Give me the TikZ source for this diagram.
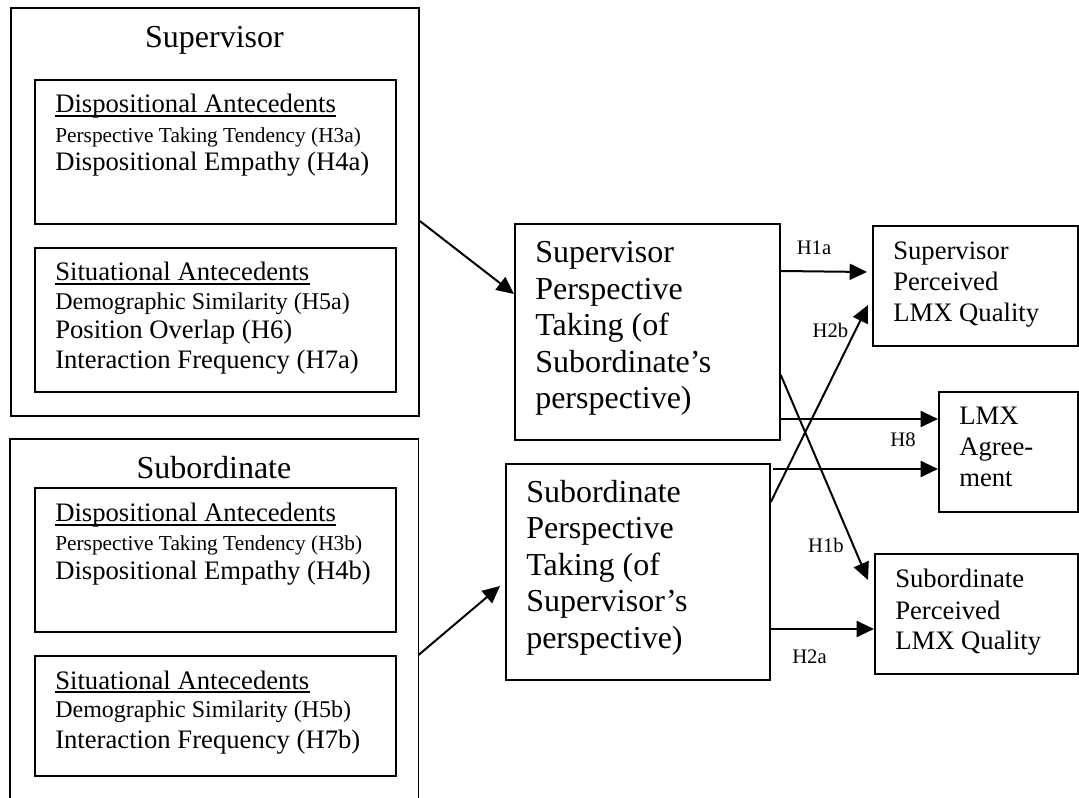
\documentclass[tikz,border=0pt]{standalone}
\usepackage{fontspec}
\setmainfont{Liberation Serif}
\usetikzlibrary{arrows.meta,calc}
\begin{document}
\begin{tikzpicture}[x=0.75pt,y=-0.75pt,
  box/.style={draw, line width=1.35pt, rectangle, inner sep=0pt, anchor=north west},
  big/.style={font=\fontsize{24}{27}\selectfont, inner sep=0pt, anchor=base west},
  mid/.style={font=\fontsize{20}{23}\selectfont, inner sep=0pt, anchor=base west},
  msm/.style={font=\fontsize{18}{21}\selectfont, inner sep=0pt, anchor=base west},
  sml/.style={font=\fontsize{16}{18}\selectfont, inner sep=0pt, anchor=base west},
  hlab/.style={font=\fontsize{15.5}{18}\selectfont, inner sep=0pt, anchor=base},
  ul/.style={line width=1pt},
  arr/.style={line width=1.5pt, -{Triangle[length=13pt,width=12pt]}},
]
\useasboundingbox (0,0) rectangle (1079,798);

% ---------- left: supervisor ----------
\node[box, minimum width=306pt, minimum height=306pt] (sup) at (10,7) {};
\node[big, anchor=base] (supT) at (214.5,48) {Supervisor};
\node[box, minimum width=270.75pt, minimum height=108pt] (supD) at (34,79) {};
\node[mid] (supD1) at (55,113) {Dispositional Antecedents};
\draw[ul] ($(supD1.base west)+(0,3)$) -- ($(supD1.base east)+(0,3)$);
\node[sml] (supD2) at (55,143) {Perspective Taking Tendency (H3a)};
\node[mid] (supD3) at (55,171) {Dispositional Empathy (H4a)};
\node[box, minimum width=270.75pt, minimum height=108pt] (supS) at (34,247) {};
\node[mid] (supS1) at (55,281) {Situational Antecedents};
\draw[ul] ($(supS1.base west)+(0,3)$) -- ($(supS1.base east)+(0,3)$);
\node[msm] (supS2) at (55,310) {Demographic Similarity (H5a)};
\node[mid] (supS3) at (55,339) {Position Overlap (H6)};
\node[mid] (supS4) at (55,369) {Interaction Frequency (H7a)};

% ---------- left: subordinate ----------
\node[anchor=north west, inner sep=0pt, minimum width=306pt, minimum height=269.25pt] (sub) at (10,439) {};
\draw[line width=1.35pt] (sub.south west) -- (sub.north west) -- (sub.north east) -- (sub.south east);
\node[big, anchor=base] (subT) at (214,479) {Subordinate};
\node[box, minimum width=270.75pt, minimum height=108pt] (subD) at (34,487) {};
\node[mid] (subD1) at (55,522) {Dispositional Antecedents};
\draw[ul] ($(subD1.base west)+(0,3)$) -- ($(subD1.base east)+(0,3)$);
\node[sml] (subD2) at (55,551) {Perspective Taking Tendency (H3b)};
\node[mid] (subD3) at (55,580) {Dispositional Empathy (H4b)};
\node[box, minimum width=270.75pt, minimum height=90pt] (subS) at (34,655) {};
\node[mid] (subS1) at (55,689) {Situational Antecedents};
\draw[ul] ($(subS1.base west)+(0,3)$) -- ($(subS1.base east)+(0,3)$);
\node[msm] (subS2) at (55,717) {Demographic Similarity (H5b)};
\node[mid] (subS3) at (55,748) {Interaction Frequency (H7b)};

% ---------- middle ----------
\node[box, minimum width=198.75pt, minimum height=162pt] (spt) at (514,223) {};
\node[big] (spt1) at (535,263) {Supervisor};
\node[big] (spt2) at (535,299.5) {Perspective};
\node[big] (spt3) at (535,336) {Taking (of};
\node[big] (spt4) at (535,372.5) {Subordinate’s};
\node[big] (spt5) at (535,409) {perspective)};

\node[box, minimum width=198pt, minimum height=162pt] (sbpt) at (505,463) {};
\node[big] (sbpt1) at (526,503) {Subordinate};
\node[big] (sbpt2) at (526,539) {Perspective};
\node[big] (sbpt3) at (526,575.5) {Taking (of};
\node[big] (sbpt4) at (526,612) {Supervisor’s};
\node[big] (sbpt5) at (526,648) {perspective)};

% ---------- right ----------
\node[box, minimum width=153.75pt, minimum height=90pt] (slmx) at (872,225) {};
\node[mid] (slmx1) at (893,260) {Supervisor};
\node[mid] (slmx2) at (893,291) {Perceived};
\node[mid] (slmx3) at (893,322) {LMX Quality};

\node[box, minimum width=104.25pt, minimum height=90pt] (lmx) at (938,391) {};
\node[mid] (lmx1) at (959,425) {LMX};
\node[mid] (lmx2) at (959,456) {Agree-};
\node[mid] (lmx3) at (959,487) {ment};

\node[box, minimum width=152.25pt, minimum height=90pt] (sblmx) at (874,553) {};
\node[mid] (sblmx1) at (895,588) {Subordinate};
\node[mid] (sblmx2) at (895,619) {Perceived};
\node[mid] (sblmx3) at (895,649) {LMX Quality};

% ---------- connectors ----------
\draw[arr] ($(sup.north east)+(0,214)$) -- ($(spt.north west)+(0,71)$);
\draw[arr] ($(sub.north east)+(0,216)$) -- ($(sbpt.north west)+(-5,123)$);
\draw[arr] ($(spt.north east)+(0,48)$) -- ($(slmx.north west)+(-5,47)$);
\draw[arr] ($(sbpt.north east)+(0,39)$) -- ($(slmx.north west)+(-4,80)$);
\draw[arr] ($(spt.north east)+(0,152)$) -- ($(sblmx.north west)+(-6,27)$);
\draw[arr] ($(spt.north east)+(0,196)$) -- ($(lmx.north west)+(0,28)$);
\draw[arr] ($(sbpt.north east)+(2,6)$) -- ($(lmx.north west)+(0,78)$);
\draw[arr] ($(sbpt.north east)+(-1,166)$) -- ($(sblmx.north west)+(0,76)$);

% ---------- path labels ----------
\node[hlab] (h1a) at (814,255) {H1a};
\node[hlab] (h2b) at (830.5,338) {H2b};
\node[hlab] (h1b) at (826,553) {H1b};
\node[hlab] (h8) at (903,447) {H8};
\node[hlab] (h2a) at (809.5,663) {H2a};
\end{tikzpicture}
\end{document}
